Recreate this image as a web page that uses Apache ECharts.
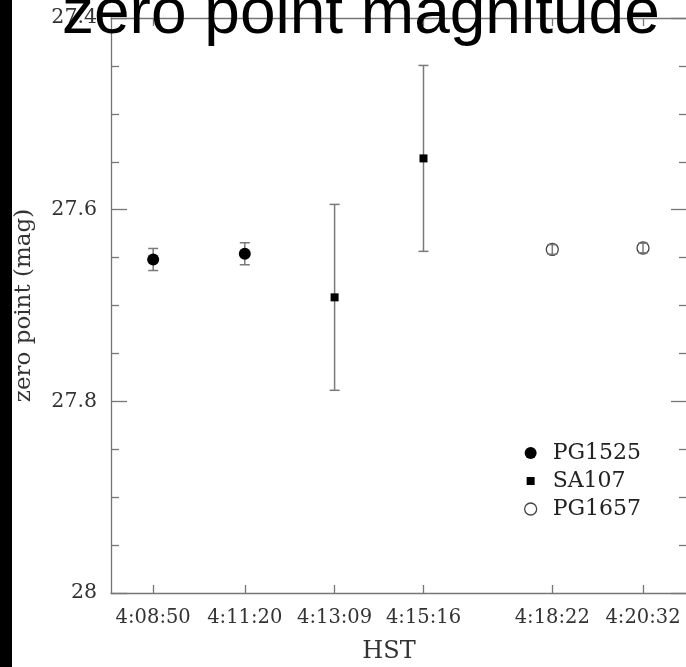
<!DOCTYPE html>
<html>
<head>
<meta charset="utf-8">
<script src="https://cdn.jsdelivr.net/npm/echarts@6/dist/echarts.min.js"></script>
<style>
html,body{margin:0;padding:0;background:#fff;}
#chart{width:686px;height:667px;}
</style>
</head>
<body>
<div id="chart"></div>
<script>
// Tick labels (HST) and their positions on the x axis
const tickLabels = ['4:08:50', '4:11:20', '4:13:09', '4:15:16', '4:18:22', '4:20:32'];
const xPos = [1, 2.01, 3, 3.98, 5.4, 6.4];

// PG1525 (filled circles)
const pg1525X = [xPos[0], xPos[1]];
const pg1525Zp = [27.652, 27.646];
const pg1525Err = [0.0115, 0.0115];

// SA107 (filled squares)
const sa107X = [xPos[2], xPos[3]];
const sa107Zp = [27.6915, 27.5465];
const sa107Err = [0.097, 0.097];

// PG1657 (open circles)
const pg1657X = [xPos[4], xPos[5]];
const pg1657Zp = [27.6415, 27.640];
const pg1657Err = [0.005, 0.005];

const AXIS = '#767676';
const SERIF = '"DejaVu Serif", serif';

function pts(xs, ys) { return xs.map((x, i) => [x, ys[i]]); }
function errs(xs, ys, es) { return xs.map((x, i) => [x, ys[i] - es[i], ys[i] + es[i]]); }

function errRender(params, api) {
  const x = api.value(0);
  const lo = api.coord([x, api.value(1)]);
  const hi = api.coord([x, api.value(2)]);
  const cap = 5;
  const st = { stroke: '#7a7a7a', lineWidth: 1.5 };
  return {
    type: 'group',
    children: [
      { type: 'line', shape: { x1: lo[0], y1: lo[1], x2: hi[0], y2: hi[1] }, style: st },
      { type: 'line', shape: { x1: lo[0] - cap, y1: lo[1], x2: lo[0] + cap, y2: lo[1] }, style: st },
      { type: 'line', shape: { x1: hi[0] - cap, y1: hi[1], x2: hi[0] + cap, y2: hi[1] }, style: st }
    ]
  };
}

const chart = echarts.init(document.getElementById('chart'), null, { renderer: 'canvas' });

const labelFmt = v => {
  const i = xPos.findIndex(p => Math.abs(p - v) < 1e-6);
  return i >= 0 ? tickLabels[i] : '';
};

chart.setOption({
  animation: false,
  backgroundColor: '#fff',
  title: {
    text: 'zero point magnitude',
    left: 62,
    top: -17,
    padding: 0,
    textStyle: { fontFamily: '"Liberation Sans", Arial, sans-serif', fontSize: 64, fontWeight: 'normal', color: '#000' }
  },
  graphic: [
    { type: 'rect', left: 0, top: 0, shape: { width: 12, height: 667 }, style: { fill: '#000' }, z: 100 }
  ],
  grid: { left: 111, right: -1, top: 18, bottom: 74, containLabel: false, outerBoundsMode: 'none' },
  legend: {
    orient: 'vertical',
    left: 519,
    top: 437,
    itemWidth: 12,
    itemHeight: 12,
    itemGap: 6,
    textStyle: { fontFamily: SERIF, fontSize: 22, color: '#222', lineHeight: 22, padding: [0, 0, 0, 11] },
    data: [
      { name: 'PG1525', icon: 'circle', itemStyle: { color: '#000' } },
      { name: 'SA107', icon: 'path://M0,0M12,12M2,2h8v8h-8z', itemStyle: { color: '#000' } },
      { name: 'PG1657', icon: 'circle', itemStyle: { color: 'rgba(0,0,0,0)', borderColor: '#444', borderWidth: 1.3 } }
    ]
  },
  xAxis: [
    {
      type: 'value', position: 'bottom', min: 0.535, max: 6.885,
      name: 'HST', nameLocation: 'middle', nameGap: 47,
      nameTextStyle: { fontFamily: SERIF, fontSize: 24, color: '#333', padding: [0, 20, 0, 0] },
      axisLine: { show: true, lineStyle: { color: AXIS, width: 1.3 } },
      axisTick: { show: true, inside: true, length: 8, customValues: xPos, lineStyle: { color: AXIS, width: 1.3 } },
      axisLabel: { show: true, customValues: xPos, formatter: labelFmt, margin: 15, fontFamily: SERIF, fontSize: 19.5, color: '#333' },
      splitLine: { show: false }
    },
    {
      type: 'value', position: 'top', min: 0.535, max: 6.885,
      axisLine: { show: true, lineStyle: { color: AXIS, width: 1.3 } },
      axisTick: { show: true, inside: true, length: 8, customValues: xPos, lineStyle: { color: AXIS, width: 1.3 } },
      axisLabel: { show: false },
      splitLine: { show: false }
    }
  ],
  yAxis: [
    {
      type: 'value', position: 'left', inverse: true, min: 27.4, max: 28, interval: 0.2,
      name: 'zero point (mag)', nameLocation: 'middle', nameRotate: 90, nameGap: 75,
      nameTextStyle: { fontFamily: SERIF, fontSize: 23, color: '#333' },
      axisLine: { show: true, lineStyle: { color: AXIS, width: 1.3 } },
      axisTick: { show: true, inside: true, length: 16, lineStyle: { color: AXIS, width: 1.3 } },
      minorTick: { show: true, splitNumber: 4, length: 8, lineStyle: { color: AXIS, width: 1.3 } },
      axisLabel: { show: true, margin: 14, fontFamily: SERIF, fontSize: 20.5, color: '#333' },
      splitLine: { show: false }
    },
    {
      type: 'value', position: 'right', inverse: true, min: 27.4, max: 28, interval: 0.2,
      axisLine: { show: true, lineStyle: { color: AXIS, width: 1.3 } },
      axisTick: { show: true, inside: true, length: 16, lineStyle: { color: AXIS, width: 1.3 } },
      minorTick: { show: true, splitNumber: 4, length: 8, lineStyle: { color: AXIS, width: 1.3 } },
      axisLabel: { show: false },
      splitLine: { show: false }
    }
  ],
  series: [
    { type: 'custom', name: 'PG1525 err', renderItem: errRender, data: errs(pg1525X, pg1525Zp, pg1525Err), z: 2, silent: true },
    { type: 'custom', name: 'SA107 err', renderItem: errRender, data: errs(sa107X, sa107Zp, sa107Err), z: 2, silent: true },
    { type: 'scatter', name: 'PG1525', symbol: 'circle', symbolSize: 12, itemStyle: { color: '#000', opacity: 1 }, data: pts(pg1525X, pg1525Zp), z: 3 },
    { type: 'scatter', name: 'SA107', symbol: 'rect', symbolSize: 8, itemStyle: { color: '#000', opacity: 1 }, data: pts(sa107X, sa107Zp), z: 3 },
    { type: 'scatter', name: 'PG1657', symbol: 'circle', symbolSize: 12, itemStyle: { color: 'rgba(0,0,0,0)', borderColor: '#444', borderWidth: 1.3, opacity: 1 }, data: pts(pg1657X, pg1657Zp), z: 3 },
    { type: 'custom', name: 'PG1657 err', renderItem: errRender, data: errs(pg1657X, pg1657Zp, pg1657Err), z: 4, silent: true }
  ]
});
</script>
</body>
</html>
